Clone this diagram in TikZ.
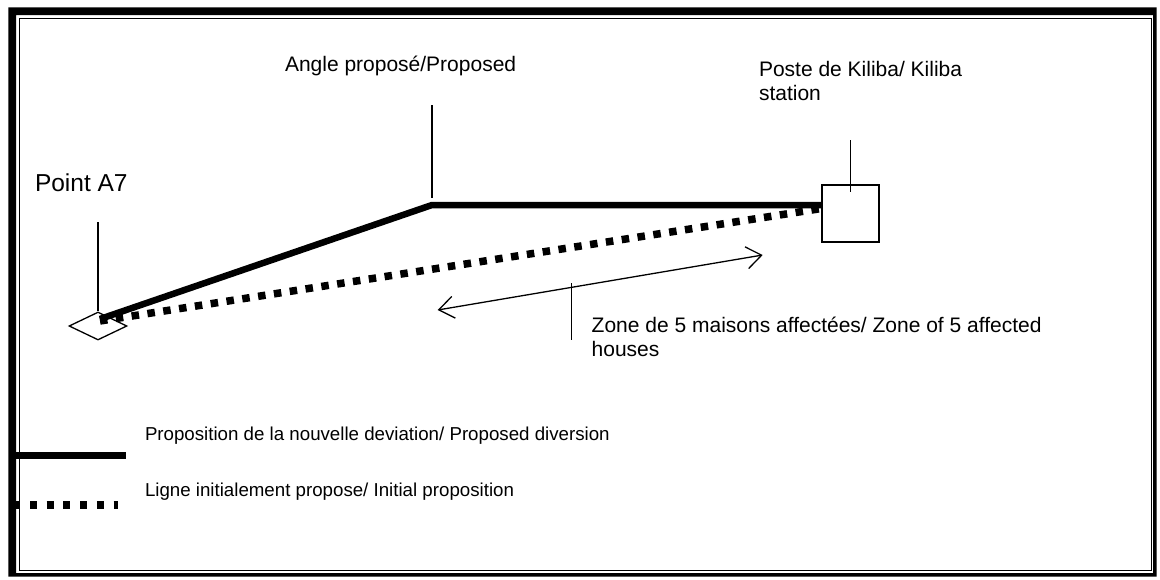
\documentclass[tikz,border=0pt]{standalone}
\usepackage{fontspec}
\setmainfont{Liberation Sans}
\usetikzlibrary{
  calc,
  arrows.meta,
  positioning,
  shapes.geometric,
}
\tikzset{
  route/.style = {line width=6.5pt},
  oldroute/.style = {line width=7.5pt, dash pattern=on 7.5pt off 8.5pt},
  pin/.style = {line width=1.3pt},
  txt/.style = {inner sep=0pt, outer sep=0pt, anchor=base west,
      align=left, font=\fontsize{#1}{24}\selectfont},
  txt/.default = 21, % font size in px
  barb/.tip = {Straight Barb[length=15pt, width=22pt]},
}

\begin{document}
\begin{tikzpicture}[x=1pt, y=-1pt]
  \useasboundingbox (0,0) rectangle (1160,579);

  % double frame
  \fill[even odd rule] (8.3,7.3) rectangle (1156.7,576.7)
    (16,15) rectangle (1153,573);
  \draw[line width=1.5pt] (19.7,18.3) rectangle (1151.3,570.3);

  \node[diamond, draw, pin, minimum width=58pt, minimum height=28pt,
    inner sep=0pt] (a7) at (98,326) {};
  \node[draw, pin, minimum size=57pt, inner sep=0pt] (post) at (850.5,213.5) {};

  \coordinate (start) at (100,319);
  \coordinate (bend) at (432,205);

  \draw[route] (start) -- (bend) -- (post.west |- bend);
  \draw[oldroute] ($(start)+(0,2)$) -- ($(post.west)+(0,-5)$);

  % labels with their ticks
  \coordinate (a7top) at (98,222);
  \draw[pin] (a7top) -- (a7.north);
  \node[txt=24.5] (a7label) at (35,191.7) {Point A7};

  \coordinate (angtop) at (432,105);
  \coordinate (angbot) at (432,198);
  \draw[pin] (angtop) -- (angbot);
  \node[txt] (anglabel) at (285,71.7) {Angle proposé/Proposed};

  \coordinate (posttop) at (850.5,140);
  \coordinate (postin) at ($(post.north)+(0,8)$);
  \draw[pin] (posttop) -- (postin);
  \node[txt] (postlabel) at (759,100) {Poste de Kiliba/ Kiliba\\station};

  \coordinate (zl) at (437.7,310);
  \coordinate (zr) at (762.7,255);
  \draw[pin, barb-barb] (zl) -- (zr);
  \coordinate (zonetop) at (571.7,283);
  \coordinate (zonebot) at (571.7,340);
  \draw[pin] (zonetop) -- (zonebot);
  \node[txt] (zonelabel) at (591.7,356.7)
    {Zone de 5 maisons affectées/ Zone of 5 affected\\houses};

  % legend
  \coordinate (leg1a) at (15,455.5);
  \coordinate (leg1b) at (126,455.5);
  \draw[line width=7pt] (leg1a) -- (leg1b);
  \node[txt=18.7] (leg1) at (145,440.7)
    {Proposition de la nouvelle deviation/ Proposed diversion};

  \coordinate (leg2a) at (13.3,505);
  \coordinate (leg2b) at (118,505);
  \draw[line width=8pt, dash pattern=on 7pt off 9.7pt] (leg2a) -- (leg2b);
  \node[txt=18.7] (leg2) at (145,496)
    {Ligne initialement propose/ Initial proposition};
\end{tikzpicture}
\end{document}
